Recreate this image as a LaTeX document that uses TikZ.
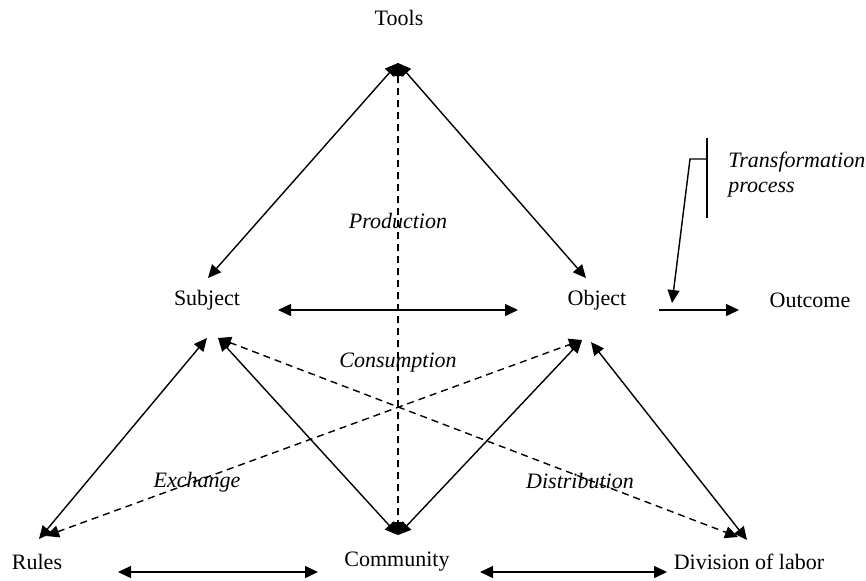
\documentclass[tikz,border=0pt]{standalone}
\usepackage{fontspec}
\setmainfont{Liberation Serif}
\usetikzlibrary{arrows.meta,positioning}

\begin{document}
\begin{tikzpicture}[x=0.5pt, y=-0.5pt, line width=0.7pt,
>={Triangle[length=6.5pt,width=6pt]},
every node/.style={font=\fontsize{11}{12.5}\selectfont},
lbl/.style={font=\fontsize{11}{12.5}\selectfont\itshape},
dsh/.style={dash pattern=on 3.5pt off 2.5pt}]
\useasboundingbox (0,0) rectangle (866,580);
% the six corners
\node (tools) at (399,18) {Tools};
\node (subject) at (207,300) {Subject};
\node (object) at (597,300) {Object};
\node (outcome) at (810,300) {Outcome};
\node (rules) at (37,562) {Rules};
\node (community) at (397,562) {Community};
\node (division) at (749,562) {Division of labor};
% arrow ends
\coordinate (t_pt) at (398,63);
\coordinate (c_pt) at (398,535);
\coordinate (s_up) at (208,278);
\coordinate (o_up) at (586,278);
\coordinate (s_lo_l) at (207,338);
\coordinate (s_lo_r) at (218,338);
\coordinate (o_lo_l) at (582,340);
\coordinate (o_lo_r) at (591,342);
\coordinate (r_pt) at (39,539);
\coordinate (r_pt_d) at (46,536);
\coordinate (d_pt) at (747,540);
\coordinate (d_pt_d) at (738,537);
\path [<->]
(t_pt) edge (s_up) edge (o_up)
(r_pt) edge (s_lo_l)
(c_pt) edge (s_lo_r) edge (o_lo_l)
(d_pt) edge (o_lo_r)
(t_pt) edge [dsh] (c_pt)
(r_pt_d) edge [dsh] (o_lo_l)
(s_lo_r) edge [dsh] (d_pt_d);
% horizontal links
\coordinate (so_l) at (278,310);
\coordinate (so_r) at (518,310);
\coordinate (rc_l) at (118,572);
\coordinate (rc_r) at (318,572);
\coordinate (cd_l) at (480,572);
\coordinate (cd_r) at (667,572);
\coordinate (oo_l) at (659,310);
\coordinate (oo_r) at (739,310);
\path [<->] (so_l) edge (so_r) (rc_l) edge (rc_r) (cd_l) edge (cd_r);
\draw [->] (oo_l) -- (oo_r);
% transformation process
\coordinate (tp_top) at (707,138);
\coordinate (tp_bot) at (707,218);
\coordinate (tp_knee) at (690,159);
\coordinate (tp_tip) at (672,303);
\draw (tp_top) -- (tp_bot);
\draw [->] (tp_top |- tp_knee) -- (tp_knee) -- (tp_tip);
\node [lbl, align=left, anchor=west] (trans) at (721,175) {Transformation\\process};
% labels
\node [lbl] (production) at (398,221) {Production};
\node [lbl] (consumption) at (398,363) {Consumption};
\node [lbl] (exchange) at (197,482) {Exchange};
\node [lbl] (distribution) at (580,481) {Distribution};
\end{tikzpicture}
\end{document}
